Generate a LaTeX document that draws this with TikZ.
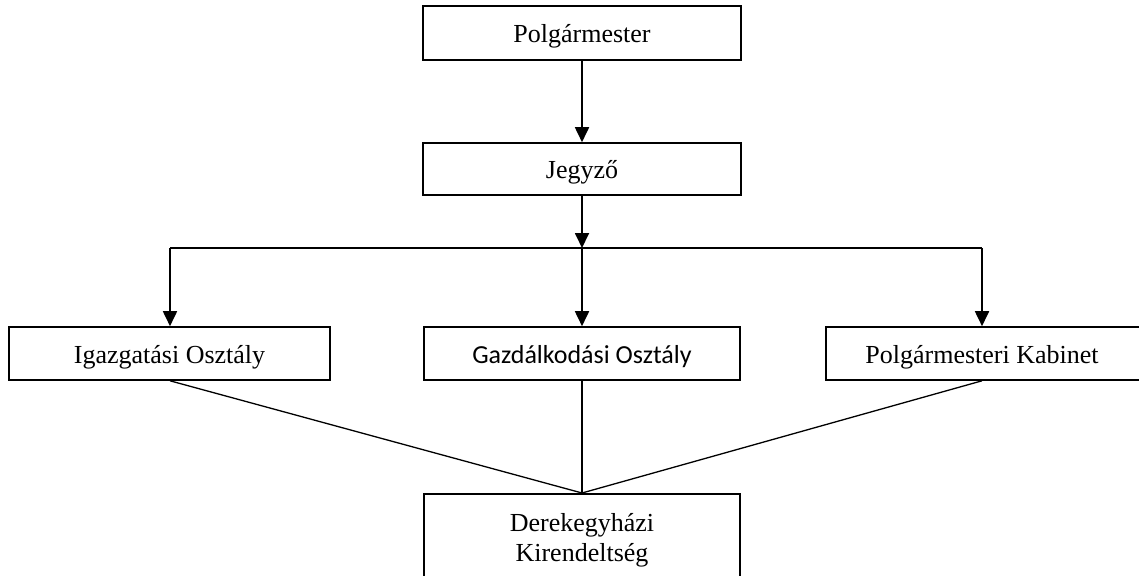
\documentclass[tikz,border=0pt]{standalone}
\usepackage{fontspec}
\setmainfont{Liberation Serif}
\newfontfamily\calibrifont{Carlito}
\usetikzlibrary{arrows.meta}
\tikzset{
  box/.style={draw, line width=1.6pt, rectangle, inner sep=0pt, align=center, font=\fontsize{26}{30}\selectfont},
  onebox/.style={box, text height=22pt, text depth=3pt},
  arr/.style={line width=1.8pt, -{Triangle[length=15pt,width=14pt]}},
  plain/.style={line width=1.3pt},
}
\begin{document}
\begin{tikzpicture}[x=1pt,y=-1pt]
\useasboundingbox (0,0) rectangle (1139,575);
\clip (0,0) rectangle (1139,575);
\node[onebox, minimum width=318pt, minimum height=54pt] (pm) at (582,33) {Polgármester};
\node[onebox, minimum width=318pt, minimum height=52pt] (jg) at (582,169) {Jegyző};
\node[onebox, minimum width=321pt, minimum height=53pt] (ig) at (169.5,353.5) {Igazgatási Osztály};
\node[onebox, minimum width=316pt, minimum height=53pt, font=\calibrifont\fontsize{26}{30}\selectfont] (gz) at (582,353.5) {Gazdálkodási Osztály};
\node[onebox, minimum width=319pt, minimum height=53pt] (pk) at (985.5,353.5) {\hspace*{-7pt}Polgármesteri Kabinet};
\node[box, minimum width=316pt, minimum height=92pt, anchor=north] (dk) at (582,493) {Derekegyházi\\Kirendeltség};
\coordinate (hl) at (170,248);
\coordinate (hm) at (582,248);
\coordinate (hr) at (982,248);
\draw[arr] (pm) -- (jg);
\draw[arr] (jg) -- (hm);
\draw[plain] (hl) -- (hr);
\draw[arr] (hm) -- (gz);
\draw[arr] (hl) -- (hl |- ig.north);
\draw[arr] (hr) -- (hr |- pk.north);
\draw[plain] (hl |- ig.south) -- (dk.north);
\draw[plain] (gz.south) -- (dk.north);
\draw[plain] (hr |- pk.south) -- (dk.north);
\end{tikzpicture}
\end{document}
